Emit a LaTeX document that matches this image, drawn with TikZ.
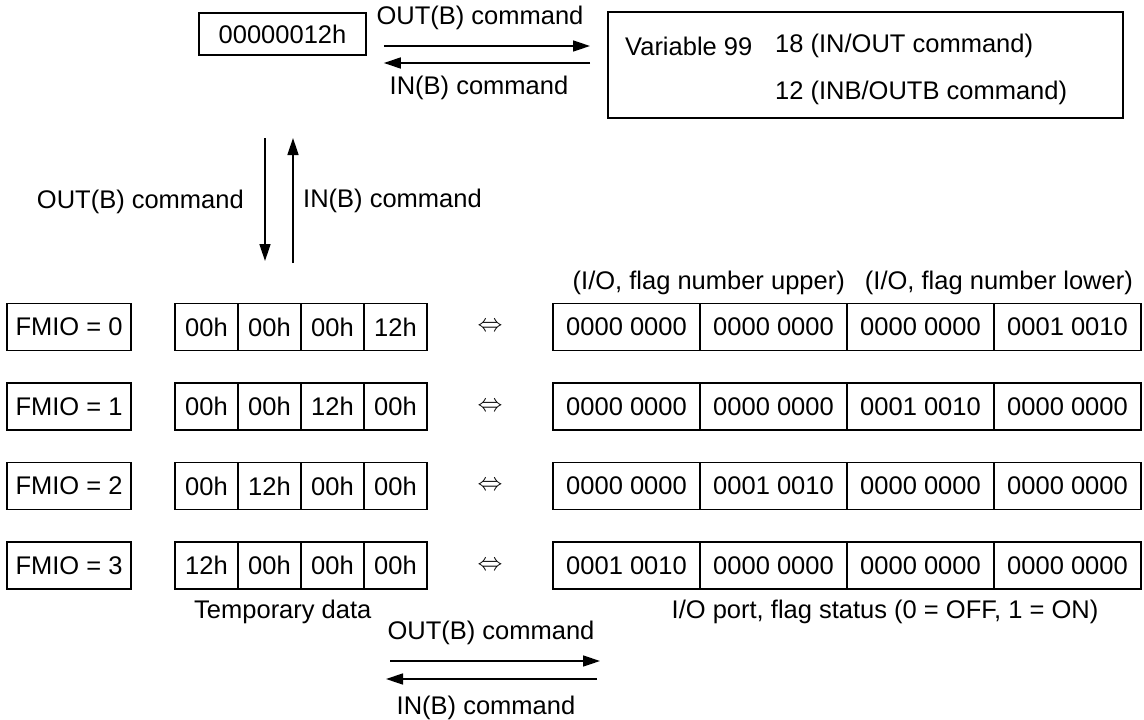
\documentclass[tikz,border=0pt]{standalone}
\usepackage{fontspec}
\setmainfont{Liberation Sans}
\usetikzlibrary{arrows.meta}
\begin{document}
\begin{tikzpicture}[x=1pt,y=-1pt,
  font=\fontsize{25.5}{31}\selectfont,
  box/.style={draw, line width=1.6pt, inner sep=0pt, minimum height=47pt},
  lbl/.style={inner sep=0pt},
  arr/.style={line width=1.5pt, -{Triangle[length=17pt,width=11pt]}}]
\useasboundingbox (0,0) rectangle (1144,720);

% top boxes
\node[box, minimum width=167pt, minimum height=42pt] (val) at (282.5,34) {00000012h};
\node[box, minimum width=515pt, minimum height=106pt, anchor=north west] (var) at (607,11) {};
\node[lbl, anchor=west] (v1) at (625,46) {Variable 99};
\node[lbl, anchor=west] (v2) at (775,46) {18 (IN/OUT command)};
\node[lbl, anchor=west] (v3) at (775,93) {12 (INB/OUTB command)};

\coordinate (a1) at ([yshift=-12pt]val.east);
\coordinate (a2) at ([yshift=-29pt]val.east);
\draw[arr, shorten <=17pt, shorten >=17pt] (a1) -- (a1 -| var.west);
\draw[arr, shorten <=17pt, shorten >=17pt] (a2 -| var.west) -- (a2);
\node[lbl] (t1) at (480,18) {OUT(B) command};
\node[lbl] (t2) at (479,88) {IN(B) command};

% vertical arrows
\coordinate (d1) at (265,138);
\coordinate (d2) at (265,261);
\coordinate (u1) at (293,263);
\coordinate (u2) at (293,138);
\draw[arr] (d1) -- (d2);
\draw[arr] (u1) -- (u2);
\node[lbl, anchor=east] (t3) at (244,202) {OUT(B) command};
\node[lbl, anchor=west] (t4) at (303,201) {IN(B) command};

% rows
\foreach \i in {0,1,2,3}{
  \pgfmathsetmacro{\cy}{327+79.5*\i}
  \node[box, minimum width=124pt] (f\i) at (69,\cy) {FMIO = \i};
  \foreach \j in {0,1,2,3}{
    \pgfmathtruncatemacro{\k}{3-\i}
    \ifnum\j=\k
      \node[box, minimum width=63pt] (c\i\j) at (206.5+63*\j,\cy) {12h};
      \node[box, minimum width=147pt] (r\i\j) at (626.5+147*\j,\cy) {0001 0010};
    \else
      \node[box, minimum width=63pt] (c\i\j) at (206.5+63*\j,\cy) {00h};
      \node[box, minimum width=147pt] (r\i\j) at (626.5+147*\j,\cy) {0000 0000};
    \fi
  }
  \node[lbl] (e\i) at (490,\cy) {$\Leftrightarrow$};
}

\node[lbl, anchor=east] (h1) at (845,283) {(I/O, flag number upper)};
\node[lbl, anchor=east] (h2) at (1133,283) {(I/O, flag number lower)};

\node[lbl, anchor=west] (b1) at (194,612) {Temporary data};
\node[lbl] (b2) at (885,612) {I/O port, flag status (0 = OFF, 1 = ON)};

% bottom arrows
\coordinate (p1) at (390,661);
\coordinate (p2) at (600,661);
\coordinate (q1) at (597,679);
\coordinate (q2) at (386,679);
\draw[arr] (p1) -- (p2);
\draw[arr] (q1) -- (q2);
\node[lbl] (t5) at (491,633) {OUT(B) command};
\node[lbl] (t6) at (486,708) {IN(B) command};
\end{tikzpicture}
\end{document}
